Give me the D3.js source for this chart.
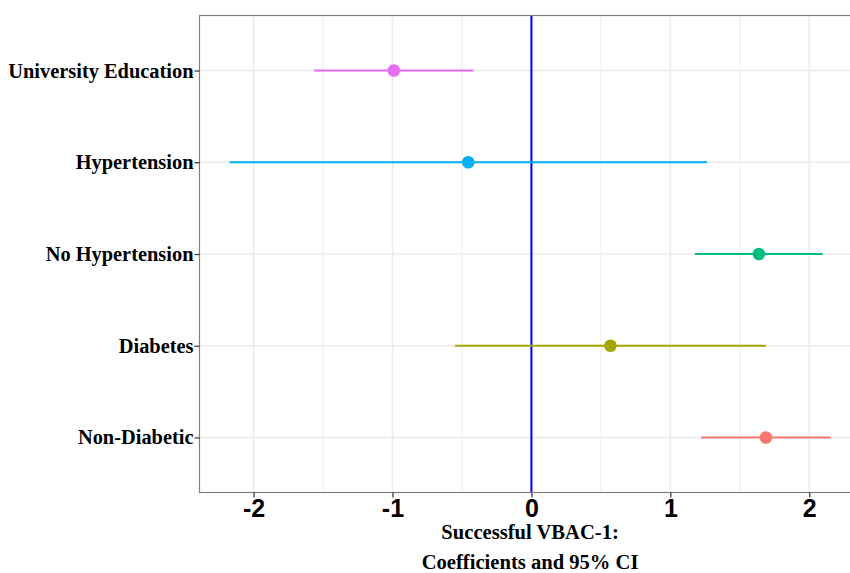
<!DOCTYPE html>
<head>
  <meta charset="utf-8">
  <script src="https://d3js.org/d3.v7.min.js"></script>
  <style>
    body { margin:0; background:#fff; }
  </style>
</head>

<body>
  <script>

    var width = 850,
        height = 573;

    // data, top to bottom
    var terms = ["University Education", "Hypertension", "No Hypertension", "Diabetes", "Non-Diabetic"];
    var estimates = [-0.99, -0.455, 1.637, 0.569, 1.688];
    var lower = [-1.563, -2.173, 1.177, -0.549, 1.221];
    var upper = [-0.417, 1.264, 2.096, 1.687, 2.154];
    var colors = ["#E76BF3", "#00B0F6", "#00BF7D", "#A3A500", "#F8766D"];
    var xTicks = [-2, -1, 0, 1, 2];
    var xMinor = [-1.5, -0.5, 0.5, 1.5];

    var svg = d3.select("body").append("svg")
      .attr("width", width)
      .attr("height", height);

    var pLeft = 199.5, pTop = 15.5, pRight = 860.7, pBottom = 492.5;

    var x = d3.scaleLinear()
        .domain([-2.389, 2.370])
        .range([pLeft, pRight]);

    var y = d3.scalePoint()
        .domain(terms)
        .range([pTop, pBottom])
        .padding(0.6);

    var g = svg.append("g");

    // grid
    g.selectAll("line.minor").data(xMinor).enter()
      .append("line")
      .attr("x1", function(d) { return x(d) })
      .attr("x2", function(d) { return x(d) })
      .attr("y1", pTop).attr("y2", pBottom)
      .attr("stroke", "#f0f0f0").attr("stroke-width", 1.2);

    g.selectAll("line.major").data(xTicks).enter()
      .append("line")
      .attr("x1", function(d) { return x(d) })
      .attr("x2", function(d) { return x(d) })
      .attr("y1", pTop).attr("y2", pBottom)
      .attr("stroke", "#ebebeb").attr("stroke-width", 1.6);

    g.selectAll("line.hgrid").data(terms).enter()
      .append("line")
      .attr("x1", pLeft).attr("x2", pRight)
      .attr("y1", function(d) { return y(d) })
      .attr("y2", function(d) { return y(d) })
      .attr("stroke", "#ebebeb").attr("stroke-width", 1.6);

    // zero line
    g.append("line")
      .attr("x1", x(0)).attr("x2", x(0))
      .attr("y1", pTop).attr("y2", pBottom)
      .attr("stroke", "#0000ff").attr("stroke-width", 2);

    // intervals and points
    g.selectAll("line.ci").data(terms).enter()
      .append("line")
      .attr("x1", function(d, i) { return x(lower[i]) })
      .attr("x2", function(d, i) { return x(upper[i]) })
      .attr("y1", function(d) { return y(d) })
      .attr("y2", function(d) { return y(d) })
      .attr("stroke", function(d, i) { return colors[i] })
      .attr("stroke-width", 2);

    g.selectAll("circle").data(terms).enter()
      .append("circle")
      .attr("cx", function(d, i) { return x(estimates[i]) })
      .attr("cy", function(d) { return y(d) })
      .attr("r", 6.3)
      .attr("fill", function(d, i) { return colors[i] });

    // panel border
    g.append("rect")
      .attr("x", pLeft).attr("y", pTop)
      .attr("width", pRight - pLeft).attr("height", pBottom - pTop)
      .attr("fill", "none").attr("stroke", "#808080").attr("stroke-width", 1.2);

    // axes
    var xAxis = d3.axisBottom(x).tickValues(xTicks).tickSize(5).tickPadding(2)
        .tickFormat(function(d) { return String(d) });
    var gx = svg.append("g").attr("transform", "translate(0," + pBottom + ")").call(xAxis);
    gx.select(".domain").remove();
    gx.selectAll(".tick line").attr("stroke", "#333").attr("stroke-width", 1.2);
    gx.selectAll(".tick text")
      .attr("fill", "#000")
      .style("font-family", "'Liberation Sans Narrow', 'Liberation Sans', Arial, sans-serif")
      .style("font-weight", "bold")
      .style("font-size", "25px");

    var yAxis = d3.axisLeft(y).tickSize(5).tickPadding(1);
    var gy = svg.append("g").attr("transform", "translate(" + pLeft + ",0)").call(yAxis);
    gy.select(".domain").remove();
    gy.selectAll(".tick line").attr("stroke", "#333").attr("stroke-width", 1.2);
    gy.selectAll(".tick text")
      .attr("fill", "#000")
      .style("font-family", "'Liberation Serif', 'Times New Roman', serif")
      .style("font-weight", "bold")
      .style("font-size", "20.4px");

    // axis title
    var title = svg.append("text")
      .attr("text-anchor", "middle")
      .style("font-family", "'Liberation Serif', 'Times New Roman', serif")
      .style("font-weight", "bold")
      .style("font-size", "20.6px");
    title.append("tspan").attr("x", (pLeft + pRight) / 2).attr("y", 539).text("Successful VBAC-1:");
    title.append("tspan").attr("x", (pLeft + pRight) / 2).attr("y", 569).text("Coefficients and 95% CI");

  </script>
</body>
